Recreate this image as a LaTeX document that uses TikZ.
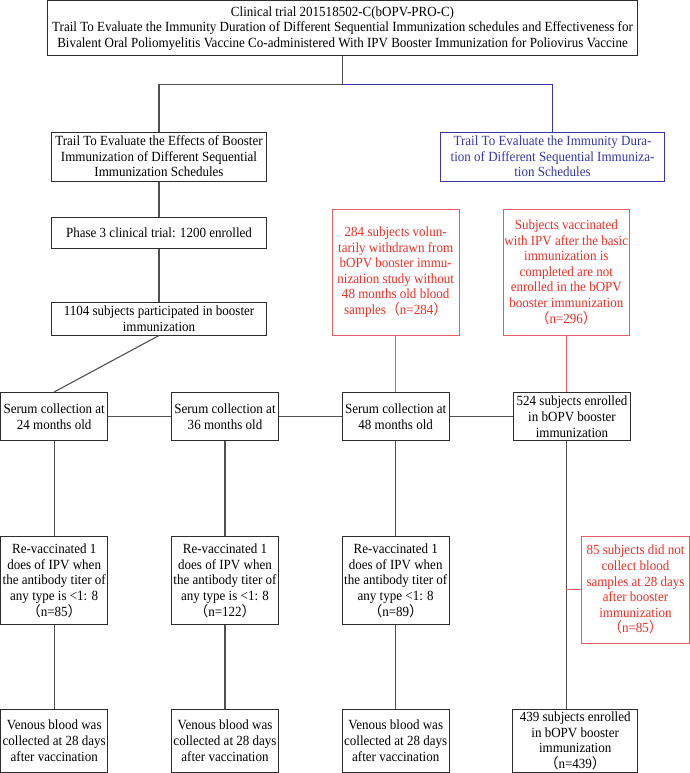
\documentclass[tikz,border=0pt]{standalone}
\usepackage{fontspec}
\setmainfont{Liberation Serif}[FakeStretch=0.93]
\newfontfamily\cjk{Noto Sans CJK SC}
\newcommand{\lp}{{\cjk （}}
\newcommand{\rp}{{\cjk ）}}
\definecolor{boxc}{RGB}{45,45,45}
\definecolor{connc}{RGB}{80,80,80}
\definecolor{bluec}{RGB}{55,55,170}
\definecolor{redtxt}{RGB}{232,48,40}
\definecolor{redln}{RGB}{228,95,95}
\begin{document}
\begin{tikzpicture}[x=1pt,y=-1pt,
  box/.style={draw=boxc, line width=1pt, inner sep=0pt, align=center,
    font=\fontsize{14}{15.6}\selectfont, text=black, fill=white},
  bluebox/.style={box, draw=bluec, text=bluec},
  redbox/.style={box, draw=redln, text=redtxt},
  wh/.style 2 args={minimum width=#1pt, minimum height=#2pt},
  conn/.style={draw=connc, line width=1.1pt},
  bconn/.style={draw=bluec, line width=1.1pt},
  rconn/.style={draw=redln, line width=1.1pt}]
\useasboundingbox (0,0) rectangle (690,773);

\node[box, wh={590.4}{55}] (top) at (342.5,28.5)
  {Clinical trial 201518502-C(bOPV-PRO-C)\\Trail To Evaluate the Immunity Duration of Different Sequential Immunization schedules and Effectiveness for\\Bivalent Oral Poliomyelitis Vaccine Co-administered With IPV Booster Immunization for Poliovirus Vaccine};

\node[box, wh={214.6}{49}] (trailL) at (159,156.5)
  {Trail To Evaluate the Effects of Booster\\Immunization of Different Sequential\\Immunization Schedules};
\node[bluebox, wh={223.6}{49}] (trailB) at (552.5,156.5)
  {Trail To Evaluate the Immunity Dura-\\tion of Different Sequential Immuniza-\\tion Schedules};

\node[box, wh={214.6}{31.4}] (phase) at (159,233) {Phase 3 clinical trial: 1200 enrolled};
\node[box, wh={214.6}{33}] (n1104) at (159,318.5) {1104 subjects participated in booster\\immunization};

\node[redbox, wh={126.7}{125.7}] (red1) at (395.7,272.2)
  {284 subjects volun-\\tarily withdrawn from\\bOPV booster immu-\\nization study without\\48 months old blood\\samples\lp n=284\rp};
\node[redbox, wh={126}{125.7}] (red2) at (566.3,272.2)
  {Subjects vaccinated\\with IPV after the basic\\immunization is\\completed are not\\enrolled in the bOPV\\booster immunization\\\lp n=296\rp};

\node[box, wh={107}{48.5}] (s24) at (54.2,416.7) {Serum collection at\\24 months old};
\node[box, wh={107.4}{48.5}] (s36) at (225,416.7) {Serum collection at\\36 months old};
\node[box, wh={107}{48.5}] (s48) at (395.7,416.7) {Serum collection at\\48 months old};
\node[box, wh={117.4}{48.5}] (n524) at (572,416.7) {524 subjects enrolled\\in bOPV booster\\immunization};

\node[box, wh={107}{88.3}] (r1) at (54.2,580.8)
  {Re-vaccinated 1\\does of IPV when\\the antibody titer of\\any type is <1: 8\\\lp n=85\rp};
\node[box, wh={107.4}{88.3}] (r2) at (225,580.8)
  {Re-vaccinated 1\\does of IPV when\\the antibody titer of\\any type is <1: 8\\\lp n=122\rp};
\node[box, wh={107}{88.3}] (r3) at (395.7,580.8)
  {Re-vaccinated 1\\does of IPV when\\the antibody titer of\\any type <1: 8\\\lp n=89\rp};
\node[redbox, wh={107.6}{107.3}] (red85) at (635.5,589.7)
  {85 subjects did not\\collect blood\\samples at 28 days\\after booster\\immunization\\\lp n=85\rp};

\node[box, wh={107}{63.3}] (v1) at (54.2,740.7) {Venous blood was\\collected at 28 days\\after vaccination};
\node[box, wh={107.4}{63.3}] (v2) at (225,740.7) {Venous blood was\\collected at 28 days\\after vaccination};
\node[box, wh={107}{63.3}] (v3) at (395.7,740.7) {Venous blood was\\collected at 28 days\\after vaccination};
\node[box, wh={125}{63.3}] (n439) at (575.2,740.9) {439 subjects enrolled\\in bOPV booster\\immunization\\\lp n=439\rp};

% connectors
\draw[conn] (top.south) -- ++(0,28.3) coordinate (j) -| (trailL.north);
\draw[bconn] (j) -| (trailB.north);
\draw[conn] (trailL.south) -- (phase.north);
\draw[conn] (phase.south) -- (n1104.north);
\draw[conn] (n1104.south) -- (s24.north);
\draw[conn] (s24.east) -- (s36.west);
\draw[conn] (s36.east) -- (s48.west);
\draw[conn] (s48.east) -- (n524.west);
\draw[rconn] (red1.south) -- (s48.north);
\draw[rconn] (red2.south) -- (red2.south |- n524.north);
\draw[conn] (s24.south) -- (r1.north);
\draw[conn] (s36.south) -- (r2.north);
\draw[conn] (s48.south) -- (r3.north);
\draw[conn] (r1.south) -- (v1.north);
\draw[conn] (r2.south) -- (v2.north);
\draw[conn] (r3.south) -- (v3.north);
\draw[conn] (n524.south -| red2.south) -- (n439.north -| red2.south);
\draw[rconn] (red85.west) -- (red85.west -| red2.south);
\end{tikzpicture}
\end{document}
